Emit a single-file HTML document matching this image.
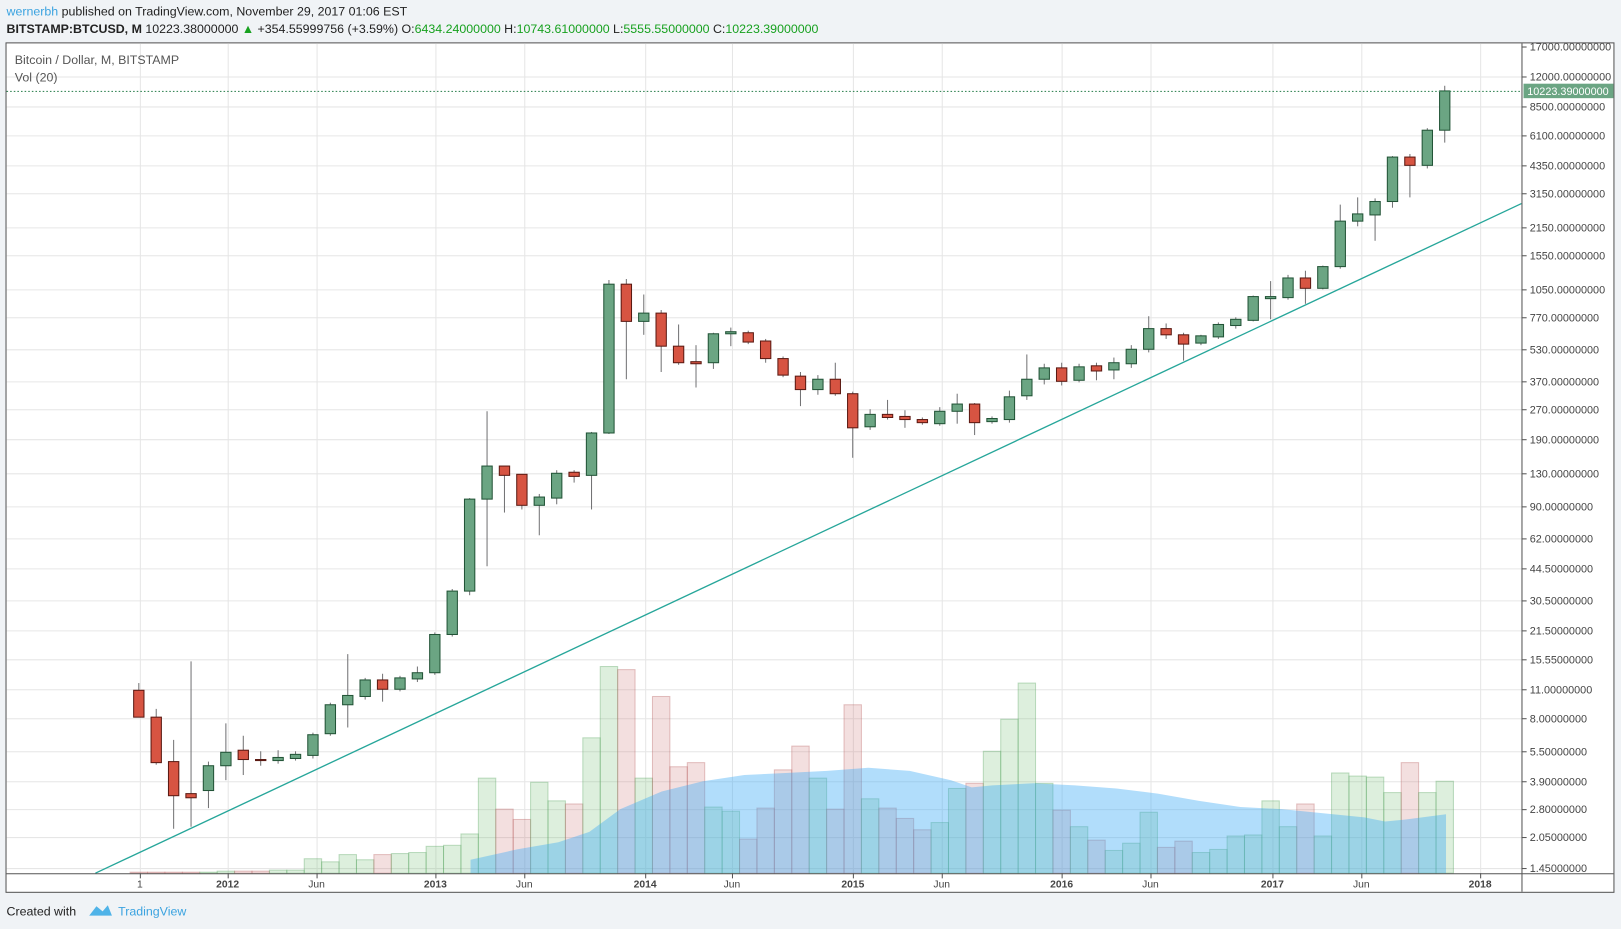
<!DOCTYPE html>
<html><head><meta charset="utf-8"><style>
html,body{margin:0;padding:0;background:#f0f3f6;width:1621px;height:929px;overflow:hidden}
svg{display:block}
text{font-family:"Liberation Sans",sans-serif}
</style></head><body>
<svg id="s" width="1621" height="929" viewBox="0 0 1568 899" xmlns="http://www.w3.org/2000/svg">
<rect x="0" y="0" width="1568" height="899" fill="#f0f3f6"/>
<rect x="5.5" y="41.5" width="1556" height="822" fill="#fff" stroke="#555" stroke-width="1"/>
<g id="grid"></g>
<g id="vol"></g>
<g id="cand"></g>
<line x1="92" y1="845" x2="1472" y2="197" stroke="#26a69a" stroke-width="1.3"/>
<line x1="6" y1="88.5" x2="1472" y2="88.5" stroke="#3c8a5c" stroke-width="1" stroke-dasharray="1.5,2"/>
<line x1="1472.5" y1="42" x2="1472.5" y2="863" stroke="#555"/>
<line x1="6" y1="845.5" x2="1561" y2="845.5" stroke="#555"/>
<g id="ax"></g>
<rect x="1474" y="81" width="87" height="14" fill="#6ba583"/>
<text x="1517" y="92" font-size="10.5" fill="#fff" text-anchor="middle">10223.39000000</text>
<text x="6" y="15" font-size="12" fill="#222"><tspan fill="#3ba3e0">wernerbh</tspan> published on TradingView.com, November 29, 2017 01:06 EST</text>
<text x="6" y="32" font-size="12" fill="#222"><tspan font-weight="bold">BITSTAMP:BTCUSD, M</tspan> 10223.38000000 <tspan fill="#17a11f">▲</tspan> +354.55999756 (+3.59%) O:<tspan fill="#17a11f">6434.24000000</tspan> H:<tspan fill="#17a11f">10743.61000000</tspan> L:<tspan fill="#17a11f">5555.55000000</tspan> C:<tspan fill="#17a11f">10223.39000000</tspan></text>
<text x="14" y="62" font-size="12" fill="#555">Bitcoin / Dollar, M, BITSTAMP</text>
<text x="14" y="79" font-size="12" fill="#555">Vol (20)</text>
<text x="6" y="886" font-size="12" fill="#222">Created with</text>
<path d="M86 886 L93 877 L99 882 L104 876 L108 886 Z" fill="#4fb3e8"/>
<text x="114" y="886" font-size="12" fill="#3ba3e0">TradingView</text>
</svg>
<script>
var NS="http://www.w3.org/2000/svg";
function el(p,t,a,txt){var e=document.createElementNS(NS,t);for(var k in a)e.setAttribute(k,a[k]);if(txt!=null)e.textContent=txt;document.getElementById(p).appendChild(e);return e;}
var py=[[17000,45],[12000,74],[8500,103],[6100,131],[4350,160],[3150,187],[2150,220],[1550,247],[1050,280],[770,307],[530,338],[370,369],[270,396],[190,425],[130,458],[90,490],[62,521],[44.5,550],[30.5,581],[21.5,610],[15.55,638],[11,667],[8,695],[5.5,727],[3.9,756],[2.8,783],[2.05,810],[1.45,840]];
py.forEach(function(p){if(p[1]>46)el("grid","line",{x1:6,x2:1472,y1:p[1]+.5,y2:p[1]+.5,stroke:"#e6e6e6"});
el("ax","line",{x1:1472,x2:1477,y1:p[1]+.5,y2:p[1]+.5,stroke:"#555"});
el("ax","text",{x:1480,y:p[1]+4,"font-size":10.5,fill:"#444"},p[0].toFixed(8));});
var tx=[[135,"1"],[220,"2012"],[306,"Jun"],[421,"2013"],[507,"Jun"],[624,"2014"],[708,"Jun"],[825,"2015"],[911,"Jun"],[1027,"2016"],[1113,"Jun"],[1231,"2017"],[1317,"Jun"],[1432,"2018"]];
tx.forEach(function(t){el("grid","line",{x1:t[0]+.5,x2:t[0]+.5,y1:42,y2:845,stroke:"#e6e6e6"});
el("ax","line",{x1:t[0]+.5,x2:t[0]+.5,y1:845,y2:850,stroke:"#555"});
el("ax","text",{x:t[0],y:859,"font-size":10,fill:"#444","text-anchor":"middle","font-weight":t[1].length==4?"bold":"normal"},t[1]);});
var C=[[668,694,661,694,0],[694,738,686,740,0],[737,770,716,802,0],[768,772,640,800,0],[741,765,737,782,1],[728,741,700,755,1],[726,735,712,750,0],[735,736,727,741,0],[733,736,726,739,1],[730,734,727,736,1],[711,731,709,734,1],[682,710,680,712,1],[673,682,633,704,1],[658,674,656,677,1],[658,667,652,679,0],[656,667,654,669,1],[651,657,645,660,1],[614,651,612,653,1],[572,614,570,616,1],[483,572,482,576,1],[451,483,398,548,1],[451,460,451,496,0],[459,489,459,493,0],[481,489,478,518,1],[458,482,455,488,1],[457,461,455,467,0],[419,460,418,493,1],[275,419,271,420,1],[275,311,270,367,0],[303,311,285,324,1],[303,335,300,360,0],[335,351,314,353,0],[350,352,334,375,0],[323,351,322,357,1],[321,323,317,335,1],[322,331,320,333,0],[330,347,328,351,0],[347,363,345,365,0],[364,377,360,393,0],[367,377,363,382,1],[367,381,351,383,0],[381,414,379,443,0],[401,413,396,416,1],[401,404,387,406,0],[403,406,397,414,0],[406,409,404,411,0],[398,410,394,412,1],[391,398,381,410,1],[391,409,390,421,0],[405,408,403,410,1],[384,406,378,409,1],[367,383,343,387,1],[356,367,352,372,1],[356,369,351,373,0],[355,368,352,370,1],[354,359,351,368,0],[351,358,346,367,1],[338,352,334,356,1],[318,338,306,341,1],[318,324,313,328,0],[324,333,322,349,0],[325,332,324,334,1],[314,326,312,328,1],[309,315,307,318,1],[287,310,286,311,1],[287,289,272,309,1],[269,288,266,290,1],[269,279,262,294,0],[258,279,257,280,1],[214,258,198,260,1],[207,214,191,219,1],[195,208,192,233,1],[152,195,151,201,1],[152,160,149,191,0],[126,160,124,163,1],[88,126,83,138,1]];
var V=[844,844,844,844,844,843,843,843,842,842,831,834,827,832,827,826,825,819,818,807,753,783,793,757,775,778,714,645,648,753,674,742,738,781,785,812,782,745,722,753,783,682,773,782,792,803,796,763,758,727,696,661,758,784,800,813,823,816,786,820,814,825,822,809,808,775,800,778,809,748,751,752,767,738,767,756];
var sp=16.85;
function X(i){return 134+i*sp;}
V.forEach(function(v,i){var g=C[i][4];el("vol","rect",{x:X(i)-sp/2,y:v,width:sp,height:845-v,fill:g?"rgba(120,190,120,0.25)":"rgba(200,110,110,0.22)",stroke:g?"rgba(80,160,90,0.35)":"rgba(180,90,90,0.35)","stroke-width":1});});
var ma=[[455,832],[500,822],[540,815],[570,805],[600,783],[640,766],[680,756],[720,750],[760,748],[800,746],[840,743],[880,746],[920,755],[940,762],[960,760],[1000,758],[1040,760],[1080,763],[1120,768],[1160,775],[1200,781],[1240,783],[1280,787],[1320,791],[1340,795],[1360,793],[1399,788]];
var d="M455 845 "+ma.map(function(p){return "L"+p[0]+" "+p[1];}).join(" ")+" L1399 845 Z";
el("vol","path",{d:d,fill:"rgba(60,170,245,0.4)"});
C.forEach(function(c,i){var x=X(i),g=c[4];
el("cand","line",{x1:x,x2:x,y1:c[2],y2:c[3],stroke:"#737375","stroke-width":1});
el("cand","rect",{x:x-5,y:c[0],width:10,height:Math.max(1,c[1]-c[0]),fill:g?"#6ba583":"#d75442",stroke:g?"#225437":"#5b1a13","stroke-width":1});});
</script>
</body></html>
